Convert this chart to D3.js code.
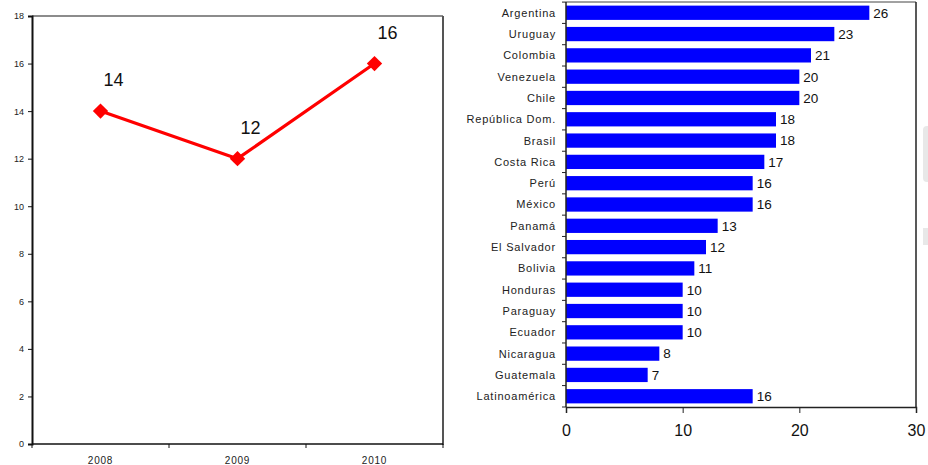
<!DOCTYPE html>
<html lang="es">
<head>
<meta charset="UTF-8">
<title>Indicadores</title>
<style>
    body { margin: 0; background: #fff; }
    svg { display: block; font-family: Arial, "Liberation Sans", sans-serif; }
</style>
</head>
<body>
<svg id="chart" width="928" height="465"></svg>
<script src="https://cdn.jsdelivr.net/npm/d3@7"></script>
<script>
// left chart: yearly series
var years = ["2008", "2009", "2010"];
var yearValues = [14, 12, 16];
var yTicksLeft = [0, 2, 4, 6, 8, 10, 12, 14, 16, 18];

// right chart: countries
var countries = ["Argentina", "Uruguay", "Colombia", "Venezuela", "Chile", "República Dom.",
    "Brasil", "Costa Rica", "Perú", "México", "Panamá", "El Salvador", "Bolivia",
    "Honduras", "Paraguay", "Ecuador", "Nicaragua", "Guatemala", "Latinoamérica"];
var countryValues = [26, 23, 21, 20, 20, 18, 18, 17, 16, 16, 13, 12, 11, 10, 10, 10, 8, 7, 16];
var xTicksRight = [0, 10, 20, 30];

var svg = d3.select("#chart");

// ---------- left line chart ----------
var L = {left: 32, right: 443, top: 16, bottom: 444};
var xL = d3.scaleBand().domain(years).range([L.left, L.right]);
var yL = d3.scaleLinear().domain([0, 18]).range([L.bottom, L.top]);

var gl = svg.append("g");

// top and right frame
gl.append("line").attr("x1", L.left).attr("x2", L.right).attr("y1", L.top).attr("y2", L.top)
    .attr("stroke", "#666").attr("stroke-width", 1.5);
gl.append("line").attr("x1", L.right).attr("x2", L.right).attr("y1", L.top).attr("y2", L.bottom + 1)
    .attr("stroke", "#555").attr("stroke-width", 2);

var yAxisL = d3.axisLeft(yL).tickValues(yTicksLeft).tickSize(4).tickPadding(4);
gl.append("g").attr("transform", "translate(" + L.left + ",0)").call(yAxisL)
    .call(function (g) {
        g.select(".domain").attr("stroke", "#111").attr("stroke-width", 2);
        g.selectAll(".tick line").attr("stroke", "#111");
        g.selectAll(".tick text").attr("font-size", 9).attr("fill", "#222")
            .attr("font-family", "Arial, 'Liberation Sans', sans-serif");
    });

// x axis with ticks at band boundaries
gl.append("line").attr("x1", L.left).attr("x2", L.right).attr("y1", L.bottom).attr("y2", L.bottom)
    .attr("stroke", "#111").attr("stroke-width", 1.5);
var bounds = years.map(function (d) { return xL(d); }).concat([L.right]);
gl.selectAll(".xtick").data(bounds).enter().append("line")
    .attr("x1", function (d) { return d; }).attr("x2", function (d) { return d; })
    .attr("y1", L.bottom).attr("y2", L.bottom + 4).attr("stroke", "#111");
gl.selectAll(".xlab").data(years).enter().append("text")
    .attr("x", function (d) { return xL(d) + xL.bandwidth() / 2; })
    .attr("y", L.bottom + 20).attr("text-anchor", "middle")
    .attr("font-size", 10).attr("letter-spacing", 0.8).attr("fill", "#222")
    .text(function (d) { return d; });

var line = d3.line()
    .x(function (d, i) { return xL(years[i]) + xL.bandwidth() / 2; })
    .y(function (d) { return yL(d); });
gl.append("path").datum(yearValues).attr("d", line)
    .attr("fill", "none").attr("stroke", "#ff0000").attr("stroke-width", 3.2);
gl.selectAll(".pt").data(yearValues).enter().append("path")
    .attr("d", d3.symbol(d3.symbolDiamond2, 150))
    .attr("transform", function (d, i) {
        return "translate(" + (xL(years[i]) + xL.bandwidth() / 2) + "," + yL(d) + ")";
    })
    .attr("fill", "#ff0000");
gl.selectAll(".vlab").data(yearValues).enter().append("text")
    .attr("x", function (d, i) { return xL(years[i]) + xL.bandwidth() / 2 + 13; })
    .attr("y", function (d) { return yL(d) - 25; })
    .attr("text-anchor", "middle").attr("font-size", 18).attr("fill", "#111")
    .text(function (d) { return d; });

// ---------- right bar chart ----------
var R = {left: 566, right: 916, top: 2, bottom: 407};
var xR = d3.scaleLinear().domain([0, 30]).range([R.left, R.right]);
var yR = d3.scaleBand().domain(countries).range([R.top, R.bottom]).paddingInner(0.33).paddingOuter(0.17);

var gr = svg.append("g");
gr.append("line").attr("x1", R.left).attr("x2", R.right).attr("y1", R.top).attr("y2", R.top)
    .attr("stroke", "#444").attr("stroke-width", 1);
gr.append("line").attr("x1", R.right).attr("x2", R.right).attr("y1", R.top).attr("y2", R.bottom)
    .attr("stroke", "#222").attr("stroke-width", 1.5);

gr.selectAll(".bar").data(countries).enter().append("rect")
    .attr("x", R.left)
    .attr("y", function (d) { return yR(d); })
    .attr("width", function (d, i) { return xR(countryValues[i]) - R.left; })
    .attr("height", yR.bandwidth())
    .attr("fill", "#0000ff");

gr.selectAll(".blab").data(countries).enter().append("text")
    .attr("x", function (d, i) { return xR(countryValues[i]) + 4; })
    .attr("y", function (d) { return yR(d) + yR.bandwidth() / 2; })
    .attr("dy", "0.36em").attr("font-size", 13.5).attr("fill", "#111")
    .text(function (d, i) { return countryValues[i]; });

// category axis
var step = yR.step();
gr.append("line").attr("x1", R.left).attr("x2", R.left).attr("y1", R.top).attr("y2", R.bottom)
    .attr("stroke", "#222").attr("stroke-width", 1.5);
var catBounds = countries.map(function (d) { return yR(d) - (step - yR.bandwidth()) / 2; }).concat([R.bottom]);
gr.selectAll(".ctick").data(catBounds).enter().append("line")
    .attr("x1", R.left - 4).attr("x2", R.left)
    .attr("y1", function (d) { return d; }).attr("y2", function (d) { return d; })
    .attr("stroke", "#222");
gr.selectAll(".clab").data(countries).enter().append("text")
    .attr("x", R.left - 10)
    .attr("y", function (d) { return yR(d) + yR.bandwidth() / 2; })
    .attr("dy", "0.36em").attr("text-anchor", "end").attr("font-size", 11)
    .attr("letter-spacing", 0.8).attr("fill", "#222")
    .text(function (d) { return d; });

var xAxisR = d3.axisBottom(xR).tickValues(xTicksRight).tickSize(6).tickPadding(12);
gr.append("g").attr("transform", "translate(0," + R.bottom + ")").call(xAxisR)
    .call(function (g) {
        g.select(".domain").attr("stroke", "#222").attr("stroke-width", 1.5);
        g.selectAll(".tick line").attr("stroke", "#222");
        g.selectAll(".tick text").attr("font-size", 16).attr("fill", "#111")
            .attr("font-family", "Arial, 'Liberation Sans', sans-serif");
    });

// faint artifacts at right edge
svg.append("rect").attr("x", 923).attr("y", 126).attr("width", 8).attr("height", 56).attr("rx", 4)
    .attr("fill", "#e8e8e8");
svg.append("rect").attr("x", 923).attr("y", 228).attr("width", 8).attr("height", 17)
    .attr("fill", "#e8e8e8");
</script>
</body>
</html>
